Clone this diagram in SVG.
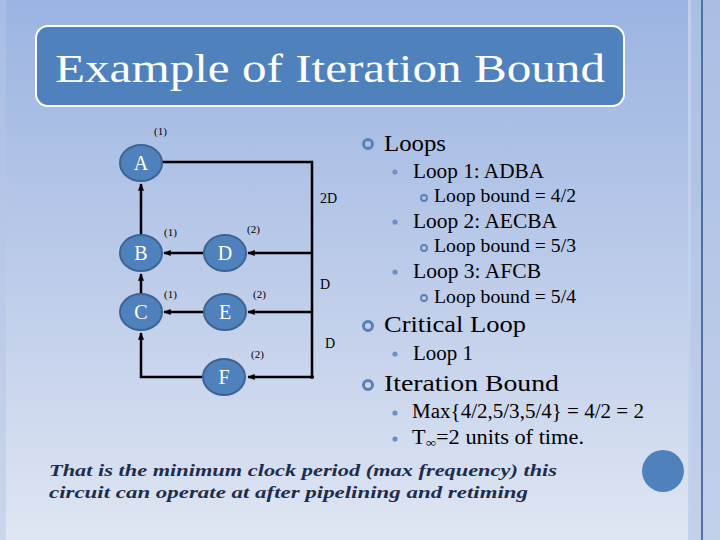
<svg xmlns="http://www.w3.org/2000/svg" width="720" height="540" viewBox="0 0 720 540">
<defs>
<linearGradient id="bg" x1="0" y1="0" x2="0" y2="1">
<stop offset="0" stop-color="#9bb4e2"/>
<stop offset="0.5" stop-color="#bccbe9"/>
<stop offset="1" stop-color="#dfe6f3"/>
</linearGradient>
<linearGradient id="side" x1="0" y1="0" x2="0" y2="1">
<stop offset="0" stop-color="#aabee4"/>
<stop offset="1" stop-color="#c2d0ea"/>
</linearGradient>
<marker id="ah" viewBox="0 0 10 10" refX="9" refY="5" markerWidth="3" markerHeight="3" orient="auto" markerUnits="strokeWidth">
<path d="M0,1 L10,5 L0,9 z" fill="#000"/>
</marker>
<style>
.node ellipse{fill:#4f81bd;stroke:#3d6494;stroke-width:2}
.node text{fill:#fff;font-family:"Liberation Serif","DejaVu Serif","Times New Roman",serif;font-size:20px;text-anchor:middle}
.lbl{font-family:"Liberation Serif","DejaVu Serif",serif;font-size:11px;fill:#000}
.dl{font-family:"Liberation Serif","DejaVu Serif",serif;font-size:14px;fill:#000}
.conn path{fill:none;stroke:#000;stroke-width:2.5}
.l1{font-family:"Liberation Serif","DejaVu Serif",serif;font-size:24px;fill:#000}
.l2{font-family:"Liberation Serif","DejaVu Serif",serif;font-size:20px;fill:#000}
.l3{font-family:"Liberation Serif","DejaVu Serif",serif;font-size:18px;fill:#000}
.b1{fill:none;stroke:#5a7fb5;stroke-width:3}
.b2{fill:#6d8fc4}
.b3{fill:none;stroke:#5a7fb5;stroke-width:1.8}
.note{font-family:"Liberation Serif","DejaVu Serif",serif;font-size:17px;font-style:italic;font-weight:bold;fill:#1f2d4d}
.ttl{font-family:"Liberation Serif","DejaVu Serif",serif;font-size:41px;fill:#fff}
</style>
</defs>
<rect width="720" height="540" fill="url(#bg)"/>
<rect x="688" y="0" width="32" height="540" fill="url(#side)"/>
<rect x="688" y="0" width="3" height="540" fill="#c4d2ec" opacity="0.8"/>
<rect x="701" y="0" width="2" height="540" fill="#4f6fa8"/>
<rect x="0" y="0" width="6" height="540" fill="#b6c6e6" opacity="0.5"/>

<g id="title">
<rect x="36" y="26" width="588" height="80" rx="12" fill="#4f81bd" stroke="#fff" stroke-width="2"/>
<text class="ttl" x="55" y="82" textLength="550" lengthAdjust="spacingAndGlyphs">Example of Iteration Bound</text>
</g>

<g id="connectors" class="conn">
<path d="M162,162 H312 V377"/>
<path d="M312,253 H248" marker-end="url(#ah)"/>
<path d="M204,253 H164" marker-end="url(#ah)"/>
<path d="M312,312 H248" marker-end="url(#ah)"/>
<path d="M204,312 H164" marker-end="url(#ah)"/>
<path d="M312,377 H248" marker-end="url(#ah)"/>
<path d="M203,377 H141 V333" marker-end="url(#ah)"/>
<path d="M141,235 V184" marker-end="url(#ah)"/>
<path d="M141,294 V274" marker-end="url(#ah)"/>
<circle cx="312" cy="377" r="2" fill="#000"/>
</g>

<g id="node-A" class="node"><ellipse cx="141" cy="163" rx="21" ry="18"/><text x="141" y="170">A</text></g>
<g id="node-B" class="node"><ellipse cx="141" cy="253" rx="21" ry="18"/><text x="141" y="260">B</text></g>
<g id="node-C" class="node"><ellipse cx="141" cy="312" rx="21" ry="18"/><text x="141" y="319">C</text></g>
<g id="node-D" class="node"><ellipse cx="225" cy="253" rx="21" ry="18"/><text x="225" y="260">D</text></g>
<g id="node-E" class="node"><ellipse cx="225" cy="312" rx="21" ry="18"/><text x="225" y="319">E</text></g>
<g id="node-F" class="node"><ellipse cx="224" cy="377" rx="21" ry="18"/><text x="224" y="384">F</text></g>

<g id="labels">
<text class="lbl" x="154" y="135">(1)</text>
<text class="lbl" x="164" y="236">(1)</text>
<text class="lbl" x="247" y="233">(2)</text>
<text class="lbl" x="164" y="298">(1)</text>
<text class="lbl" x="253" y="298">(2)</text>
<text class="lbl" x="251" y="358">(2)</text>
<text class="dl" x="320" y="203">2D</text>
<text class="dl" x="320" y="289">D</text>
<text class="dl" x="325" y="348">D</text>
</g>

<g id="bullets">
<circle class="b1" cx="368" cy="144" r="4.5"/>
<circle class="b2" cx="395" cy="172" r="2.6"/>
<circle class="b3" cx="424" cy="198" r="3"/>
<circle class="b2" cx="395" cy="222" r="2.6"/>
<circle class="b3" cx="424" cy="248" r="3"/>
<circle class="b2" cx="395" cy="272" r="2.6"/>
<circle class="b3" cx="424" cy="298" r="3"/>
<circle class="b1" cx="368" cy="326" r="4.5"/>
<circle class="b2" cx="395" cy="354" r="2.6"/>
<circle class="b1" cx="368" cy="385" r="4.5"/>
<circle class="b2" cx="395" cy="413" r="2.6"/>
<circle class="b2" cx="395" cy="439" r="2.6"/>
</g>

<g id="text">
<text class="l1" x="384" y="151" textLength="62" lengthAdjust="spacingAndGlyphs">Loops</text>
<text class="l2" x="413" y="178" textLength="131" lengthAdjust="spacingAndGlyphs">Loop 1: ADBA</text>
<text class="l3" x="434" y="202" textLength="142" lengthAdjust="spacingAndGlyphs">Loop bound = 4/2</text>
<text class="l2" x="413" y="228" textLength="144" lengthAdjust="spacingAndGlyphs">Loop 2: AECBA</text>
<text class="l3" x="434" y="252" textLength="142" lengthAdjust="spacingAndGlyphs">Loop bound = 5/3</text>
<text class="l2" x="413" y="278" textLength="128" lengthAdjust="spacingAndGlyphs">Loop 3: AFCB</text>
<text class="l3" x="434" y="303" textLength="142" lengthAdjust="spacingAndGlyphs">Loop bound = 5/4</text>
<text class="l1" x="384" y="332" textLength="142" lengthAdjust="spacingAndGlyphs">Critical Loop</text>
<text class="l2" x="413" y="360" textLength="60" lengthAdjust="spacingAndGlyphs">Loop 1</text>
<text class="l1" x="384" y="391" textLength="175" lengthAdjust="spacingAndGlyphs">Iteration Bound</text>
<text class="l2" x="412" y="418" textLength="232" lengthAdjust="spacingAndGlyphs">Max{4/2,5/3,5/4} = 4/2 = 2</text>
<text class="l2" x="412" y="444" textLength="172" lengthAdjust="spacingAndGlyphs">T<tspan font-size="13" dy="3">∞</tspan><tspan dy="-3">=2 units of time.</tspan></text>
</g>

<g id="note">
<text class="note" x="49" y="476" textLength="508" lengthAdjust="spacingAndGlyphs">That is the minimum clock period (max frequency) this</text>
<text class="note" x="49" y="498" textLength="479" lengthAdjust="spacingAndGlyphs">circuit can operate at after pipelining and retiming</text>
</g>

<circle id="deco" cx="663" cy="471" r="21" fill="#4f81bd"/>
</svg>
